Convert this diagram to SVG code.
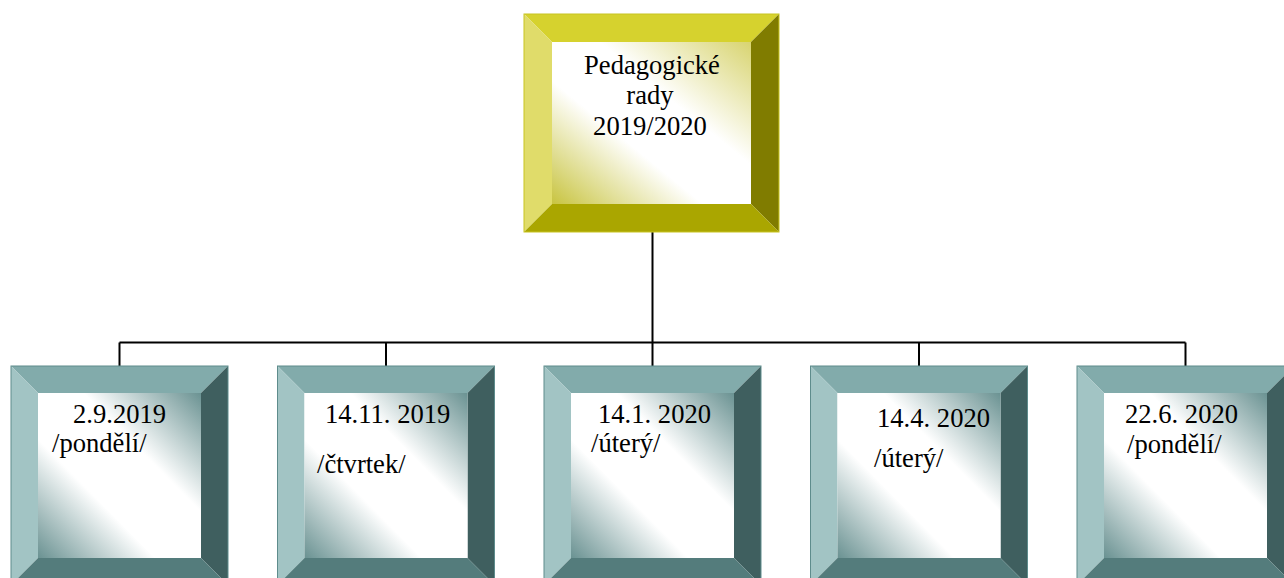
<svg xmlns="http://www.w3.org/2000/svg" xmlns:xlink="http://www.w3.org/1999/xlink" width="1284" height="578" viewBox="0 0 1284 578">
<style>
  text { font-family: "Liberation Serif", "Times New Roman", Tinos, "Nimbus Roman", "DejaVu Serif", serif; font-size: 26.6px; fill: #000; }
  .conn { stroke: #000; stroke-width: 2; fill: none; }
  .yt { fill: #d6d22e; } .yl { fill: #e0dc6a; } .yr { fill: #807c00; } .yb { fill: #aaa600; }
  .tt { fill: #82abab; } .tl { fill: #a2c4c4; } .tr { fill: #3f5f5f; } .tb { fill: #547c7c; }
</style>
<defs>
  <linearGradient id="gy" x1="0" y1="1" x2="1" y2="0">
    <stop offset="0" stop-color="#c8c440"/>
    <stop offset="0.38" stop-color="#ffffff"/>
    <stop offset="0.62" stop-color="#ffffff"/>
    <stop offset="1" stop-color="#d8d470"/>
  </linearGradient>
  <linearGradient id="gt" x1="0" y1="1" x2="1" y2="0">
    <stop offset="0" stop-color="#6a9292"/>
    <stop offset="0.36" stop-color="#ffffff"/>
    <stop offset="0.64" stop-color="#ffffff"/>
    <stop offset="1" stop-color="#6a9292"/>
  </linearGradient>
  <g id="tealbox">
    <polygon class="tt" points="0,0 217,0 190,27 27,27"/>
    <polygon class="tl" points="0,0 27,27 27,192 0,219"/>
    <polygon class="tr" points="217,0 217,219 190,192 190,27"/>
    <polygon class="tb" points="0,219 27,192 190,192 217,219"/>
    <rect x="27" y="27" width="163" height="165" fill="url(#gt)"/>
    <rect x="0" y="0" width="217" height="219" fill="none" stroke="#5e8c8c" stroke-width="1"/>
  </g>
</defs>
<rect width="1284" height="578" fill="#ffffff"/>

<g id="connectors">
  <line class="conn" x1="652.5" y1="232" x2="652.5" y2="342.5"/>
  <line class="conn" x1="119.5" y1="342.5" x2="1185.5" y2="342.5"/>
  <line class="conn" x1="119.5" y1="342.5" x2="119.5" y2="366"/>
  <line class="conn" x1="386" y1="342.5" x2="386" y2="366"/>
  <line class="conn" x1="652.5" y1="342.5" x2="652.5" y2="366"/>
  <line class="conn" x1="919" y1="342.5" x2="919" y2="366"/>
  <line class="conn" x1="1185.5" y1="342.5" x2="1185.5" y2="366"/>
</g>

<g id="root">
  <polygon class="yt" points="524,14 779,14 751,42 552,42"/>
  <polygon class="yl" points="524,14 552,42 552,204 524,232"/>
  <polygon class="yr" points="779,14 779,232 751,204 751,42"/>
  <polygon class="yb" points="524,232 552,204 751,204 779,232"/>
  <rect x="552" y="42" width="199" height="162" fill="url(#gy)"/>
  <rect x="524" y="14" width="255" height="218" fill="none" stroke="#c8c420" stroke-width="1"/>
  <text x="652" y="74" text-anchor="middle">Pedagogické</text>
  <text x="650" y="104" text-anchor="middle">rady</text>
  <text x="650" y="135" text-anchor="middle">2019/2020</text>
</g>

<g id="n1">
  <use xlink:href="#tealbox" transform="translate(11,366)"/>
  <text x="73" y="423">2.9.2019</text>
  <text x="52" y="452">/pondělí/</text>
</g>
<g id="n2">
  <use xlink:href="#tealbox" transform="translate(277.5,366)"/>
  <text x="325" y="423">14.11. 2019</text>
  <text x="317" y="473">/čtvrtek/</text>
</g>
<g id="n3">
  <use xlink:href="#tealbox" transform="translate(544,366)"/>
  <text x="598" y="423">14.1. 2020</text>
  <text x="591" y="452">/úterý/</text>
</g>
<g id="n4">
  <use xlink:href="#tealbox" transform="translate(810.5,366)"/>
  <text x="877" y="427">14.4. 2020</text>
  <text x="874" y="467">/úterý/</text>
</g>
<g id="n5">
  <use xlink:href="#tealbox" transform="translate(1077,366)"/>
  <text x="1125" y="423">22.6. 2020</text>
  <text x="1127" y="453">/pondělí/</text>
</g>
</svg>
